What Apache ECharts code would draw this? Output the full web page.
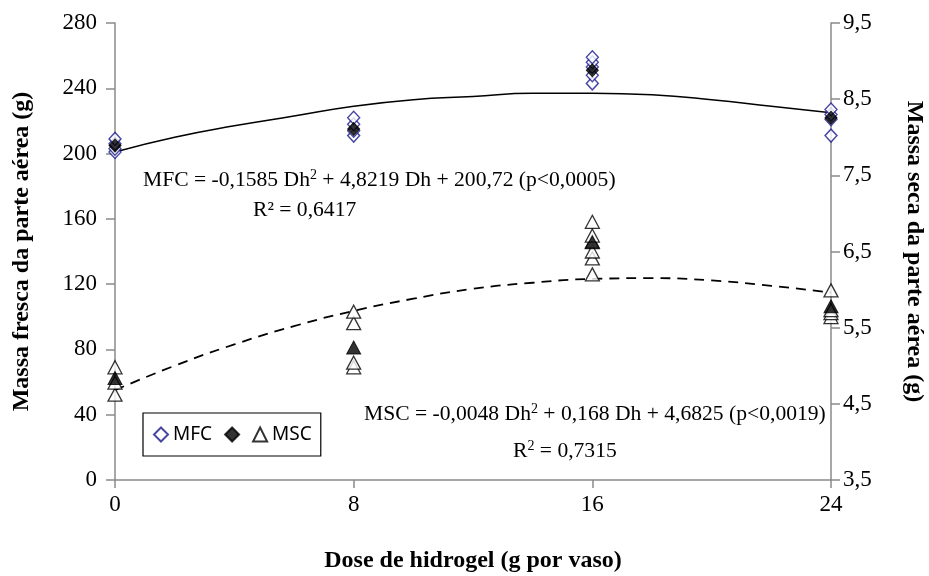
<!DOCTYPE html>
<html><head><meta charset="utf-8">
<script src="https://cdn.jsdelivr.net/npm/echarts@6/dist/echarts.min.js"></script>
<style>html,body{margin:0;padding:0;background:#fff}#c{width:929px;height:576px}</style>
</head><body><div id="c"></div>
<script>
const doses = [0, 8, 16, 24];
const mfcReps = [[201, 203, 206, 209], [211, 214, 218, 222], [243, 248, 253, 256, 259], [211, 221, 224, 227]];
const mfcMeans = [205, 215, 251, 222];
const mscReps = [[4.62, 4.78, 4.98], [4.98, 5.04, 5.56, 5.71], [6.20, 6.41, 6.50, 6.63, 6.71, 6.89], [5.64, 5.69, 5.73, 5.99]];
const mscMeans = [4.84, 5.24, 6.62, 5.78];
const curveDoses = [0, 2, 4, 6, 8, 10, 12, 14, 16, 18, 20, 22, 24];
const mfcCurve = [201, 210, 217, 223, 229, 233, 235, 237, 237, 236, 233, 229, 225];
const mscCurve = [4.68, 5.00, 5.28, 5.52, 5.72, 5.88, 6.01, 6.09, 6.14, 6.15, 6.12, 6.05, 5.96];
const xTicks = ['0', '8', '16', '24'];
const leftTicks = ['0', '40', '80', '120', '160', '200', '240', '280'];
const rightTicks = ['3,5', '4,5', '5,5', '6,5', '7,5', '8,5', '9,5'];

function pairsFromReps(reps) {
  const out = [];
  reps.forEach((vals, i) => vals.forEach(v => out.push([doses[i], v])));
  return out;
}
function pairs(xs, ys) { return xs.map((x, i) => [x, ys[i]]); }

const serif = 'Liberation Serif';
const axisGrey = '#8a8a8a';
const navy = '#1a1a8c';
const supStyle = {fontSize: 14, fontFamily: serif, verticalAlign: 'bottom', padding: [0, 0, 10, 0]};

const chart = echarts.init(document.getElementById('c'), null, {renderer: 'canvas'});
const option = {
  animation: false,
  backgroundColor: '#fff',
  grid: {left: 115, right: 98, top: 23, bottom: 96, containLabel: false, outerBoundsMode: 'none'},
  xAxis: {
    type: 'value', min: 0, max: 24, interval: 8,
    axisLine: {show: true, onZero: false, lineStyle: {color: axisGrey, width: 1.5}},
    axisTick: {show: true, length: 8, lineStyle: {color: axisGrey, width: 1.5}},
    splitLine: {show: false},
    axisLabel: {fontFamily: serif, fontSize: 23, color: '#000', margin: 13,
      formatter: v => xTicks[doses.indexOf(v)] ?? ''},
    name: 'Dose de hidrogel (g por vaso)', nameLocation: 'middle', nameGap: 69,
    nameTextStyle: {fontFamily: serif, fontSize: 24, fontWeight: 'bold', color: '#000'}
  },
  yAxis: [{
    type: 'value', min: 0, max: 280, interval: 40, position: 'left',
    axisLine: {show: true, onZero: false, lineStyle: {color: axisGrey, width: 1.5}},
    axisTick: {show: true, length: 9, lineStyle: {color: axisGrey, width: 1.5}},
    splitLine: {show: false},
    axisLabel: {fontFamily: serif, fontSize: 23, color: '#000', margin: 18,
      formatter: v => leftTicks[Math.round(v / 40)] ?? ''},
    name: 'Massa fresca da parte aérea (g)', nameLocation: 'middle', nameGap: 81, nameRotate: 90,
    nameTextStyle: {fontFamily: serif, fontSize: 24, fontWeight: 'bold', color: '#000'}
  }, {
    type: 'value', min: 3.5, max: 9.5, interval: 1, position: 'right',
    axisLine: {show: true, onZero: false, lineStyle: {color: axisGrey, width: 1.5}},
    axisTick: {show: true, length: 9, lineStyle: {color: axisGrey, width: 1.5}},
    splitLine: {show: false},
    axisLabel: {fontFamily: serif, fontSize: 23, color: '#000', margin: 12,
      formatter: v => rightTicks[Math.round(v - 3.5)] ?? ''},
    name: 'Massa seca da parte aérea (g)', nameLocation: 'middle', nameGap: 71, nameRotate: -90,
    nameTextStyle: {fontFamily: serif, fontSize: 24, fontWeight: 'bold', color: '#000'}
  }],
  legend: {
    left: 143, top: 413,
    orient: 'horizontal', selectedMode: false,
    borderColor: '#000', borderWidth: 1.2, borderRadius: 0,
    padding: [12, 9, 12, 10], itemGap: 12, itemWidth: 14, itemHeight: 14,
    textStyle: {fontFamily: 'Noto Sans', fontSize: 19, color: '#000'},
    data: ['MFC', 'MFC média', 'MSC'],
    formatter: n => n === 'MFC média' ? '' : n
  },
  series: [
    {name: 'MFC curva', type: 'line', yAxisIndex: 0, data: pairs(curveDoses, mfcCurve),
      smooth: true, showSymbol: false, symbol: 'none', z: 1,
      lineStyle: {color: '#000', width: 1.5}},
    {name: 'MSC curva', type: 'line', yAxisIndex: 1, data: pairs(curveDoses, mscCurve),
      smooth: true, showSymbol: false, symbol: 'none', z: 1,
      lineStyle: {color: '#000', width: 1.8, type: [10, 7]}},
    {name: 'MSC', type: 'scatter', yAxisIndex: 1, data: pairsFromReps(mscReps),
      symbol: 'triangle', symbolSize: [14, 13], z: 3,
      itemStyle: {color: '#fff', borderColor: '#000', borderWidth: 1.3}},
    {name: 'MSC média', type: 'scatter', yAxisIndex: 1, data: pairs(doses, mscMeans),
      symbol: 'triangle', symbolSize: [14, 13], z: 4,
      itemStyle: {color: '#000', borderColor: '#000', borderWidth: 1}},
    {name: 'MFC', type: 'scatter', yAxisIndex: 0, data: pairsFromReps(mfcReps),
      symbol: 'diamond', symbolSize: [12, 13], z: 5,
      itemStyle: {color: '#fff', borderColor: navy, borderWidth: 1.4}},
    {name: 'MFC média', type: 'scatter', yAxisIndex: 0, data: pairs(doses, mfcMeans),
      symbol: 'diamond', symbolSize: [12, 13], z: 6,
      itemStyle: {color: '#000', borderColor: '#000', borderWidth: 1}}
  ],
  graphic: [
    {type: 'text', left: 143, top: 168, z: 10,
      style: {text: 'MFC = -0,1585 Dh{sup|2} + 4,8219 Dh + 200,72 (p<0,0005)',
        font: '21.6px "Liberation Serif"', fill: '#000', rich: {sup: supStyle}}},
    {type: 'text', left: 253, top: 199, z: 10,
      style: {text: 'R² = 0,6417', font: '21.6px "Liberation Serif"', fill: '#000'}},
    {type: 'text', left: 364, top: 402, z: 10,
      style: {text: 'MSC = -0,0048 Dh{sup|2} + 0,168 Dh + 4,6825 (p<0,0019)',
        font: '21.6px "Liberation Serif"', fill: '#000', rich: {sup: supStyle}}},
    {type: 'text', left: 513, top: 439, z: 10,
      style: {text: 'R{sup|2} = 0,7315', font: '21.6px "Liberation Serif"', fill: '#000', rich: {sup: supStyle}}}
  ]
};
chart.setOption(option);
</script></body></html>
